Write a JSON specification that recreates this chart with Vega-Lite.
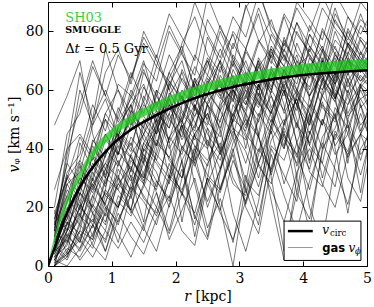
{
"$schema": "https://vega.github.io/schema/vega-lite/v6.json",
"autosize": "none",
"width": 319,
"height": 264,
"padding": {"left": 48, "top": 2, "right": 7, "bottom": 41},
"background": "white",
"config": {
  "font": "DejaVu Serif",
  "view": {"stroke": "#000", "strokeWidth": 1},
  "axis": {"grid": false, "domain": false, "tickColor": "#000", "tickSize": -5, "tickWidth": 1, "labelFont": "DejaVu Serif", "labelFontSize": 14, "labelColor": "#000", "labelPadding": 10, "labelFlush": false, "labelOverlap": false, "titleFont": "DejaVu Serif", "titleFontSize": 14, "titleFontWeight": "normal", "titleColor": "#000"}
},
"datasets": {
"one": [{"k": 1}],
"gas": [
{"s":1,"r":0.1,"v":5},{"s":1,"r":0.3,"v":14},{"s":1,"r":0.5,"v":22},{"s":1,"r":0.7,"v":35},{"s":1,"r":0.9,"v":28},{"s":1,"r":1.1,"v":40},{"s":1,"r":1.3,"v":52},{"s":1,"r":1.5,"v":47},{"s":1,"r":1.7,"v":60},{"s":1,"r":1.9,"v":55},{"s":1,"r":2.1,"v":49},{"s":1,"r":2.3,"v":62},{"s":1,"r":2.5,"v":70},{"s":1,"r":2.7,"v":58},{"s":1,"r":2.9,"v":51},{"s":1,"r":3.1,"v":66},{"s":1,"r":3.3,"v":60},{"s":1,"r":3.5,"v":72},{"s":1,"r":3.7,"v":64},{"s":1,"r":3.9,"v":55},{"s":1,"r":4.1,"v":68},{"s":1,"r":4.3,"v":75},{"s":1,"r":4.5,"v":62},{"s":1,"r":4.7,"v":70},{"s":1,"r":4.9,"v":66},{"s":1,"r":5.1,"v":73},
{"s":2,"r":0.1,"v":12},{"s":2,"r":0.3,"v":8},{"s":2,"r":0.5,"v":20},{"s":2,"r":0.7,"v":15},{"s":2,"r":0.9,"v":30},{"s":2,"r":1.1,"v":26},{"s":2,"r":1.3,"v":38},{"s":2,"r":1.5,"v":45},{"s":2,"r":1.7,"v":36},{"s":2,"r":1.9,"v":50},{"s":2,"r":2.1,"v":58},{"s":2,"r":2.3,"v":44},{"s":2,"r":2.5,"v":40},{"s":2,"r":2.7,"v":53},{"s":2,"r":2.9,"v":61},{"s":2,"r":3.1,"v":48},{"s":2,"r":3.3,"v":57},{"s":2,"r":3.5,"v":66},{"s":2,"r":3.7,"v":52},{"s":2,"r":3.9,"v":60},{"s":2,"r":4.1,"v":49},{"s":2,"r":4.3,"v":63},{"s":2,"r":4.5,"v":71},{"s":2,"r":4.7,"v":58},{"s":2,"r":4.9,"v":65},{"s":2,"r":5.1,"v":60},
{"s":3,"r":0.1,"v":2},{"s":3,"r":0.3,"v":10},{"s":3,"r":0.5,"v":6},{"s":3,"r":0.7,"v":18},{"s":3,"r":0.9,"v":25},{"s":3,"r":1.1,"v":20},{"s":3,"r":1.3,"v":33},{"s":3,"r":1.5,"v":28},{"s":3,"r":1.7,"v":42},{"s":3,"r":1.9,"v":37},{"s":3,"r":2.1,"v":30},{"s":3,"r":2.3,"v":45},{"s":3,"r":2.5,"v":52},{"s":3,"r":2.7,"v":39},{"s":3,"r":2.9,"v":47},{"s":3,"r":3.1,"v":35},{"s":3,"r":3.3,"v":50},{"s":3,"r":3.5,"v":58},{"s":3,"r":3.7,"v":44},{"s":3,"r":3.9,"v":38},{"s":3,"r":4.1,"v":55},{"s":3,"r":4.3,"v":48},{"s":3,"r":4.5,"v":62},{"s":3,"r":4.7,"v":51},{"s":3,"r":4.9,"v":57},{"s":3,"r":5.1,"v":49},
{"s":4,"r":0.1,"v":16},{"s":4,"r":0.3,"v":35},{"s":4,"r":0.5,"v":28},{"s":4,"r":0.7,"v":42},{"s":4,"r":0.9,"v":50},{"s":4,"r":1.1,"v":38},{"s":4,"r":1.3,"v":55},{"s":4,"r":1.5,"v":62},{"s":4,"r":1.7,"v":48},{"s":4,"r":1.9,"v":58},{"s":4,"r":2.1,"v":66},{"s":4,"r":2.3,"v":53},{"s":4,"r":2.5,"v":70},{"s":4,"r":2.7,"v":61},{"s":4,"r":2.9,"v":57},{"s":4,"r":3.1,"v":74},{"s":4,"r":3.3,"v":65},{"s":4,"r":3.5,"v":59},{"s":4,"r":3.7,"v":78},{"s":4,"r":3.9,"v":68},{"s":4,"r":4.1,"v":72},{"s":4,"r":4.3,"v":63},{"s":4,"r":4.5,"v":80},{"s":4,"r":4.7,"v":70},{"s":4,"r":4.9,"v":67},{"s":4,"r":5.1,"v":75},
{"s":5,"r":0.1,"v":0},{"s":5,"r":0.3,"v":5},{"s":5,"r":0.5,"v":12},{"s":5,"r":0.7,"v":9},{"s":5,"r":0.9,"v":22},{"s":5,"r":1.1,"v":30},{"s":5,"r":1.3,"v":18},{"s":5,"r":1.5,"v":27},{"s":5,"r":1.7,"v":38},{"s":5,"r":1.9,"v":33},{"s":5,"r":2.1,"v":25},{"s":5,"r":2.3,"v":41},{"s":5,"r":2.5,"v":36},{"s":5,"r":2.7,"v":46},{"s":5,"r":2.9,"v":30},{"s":5,"r":3.1,"v":22},{"s":5,"r":3.3,"v":38},{"s":5,"r":3.5,"v":50},{"s":5,"r":3.7,"v":43},{"s":5,"r":3.9,"v":35},{"s":5,"r":4.1,"v":52},{"s":5,"r":4.3,"v":40},{"s":5,"r":4.5,"v":47},{"s":5,"r":4.7,"v":58},{"s":5,"r":4.9,"v":45},{"s":5,"r":5.1,"v":53},
{"s":6,"r":0.1,"v":8},{"s":6,"r":0.3,"v":20},{"s":6,"r":0.5,"v":14},{"s":6,"r":0.7,"v":27},{"s":6,"r":0.9,"v":35},{"s":6,"r":1.1,"v":44},{"s":6,"r":1.3,"v":32},{"s":6,"r":1.5,"v":50},{"s":6,"r":1.7,"v":41},{"s":6,"r":1.9,"v":57},{"s":6,"r":2.1,"v":46},{"s":6,"r":2.3,"v":38},{"s":6,"r":2.5,"v":55},{"s":6,"r":2.7,"v":63},{"s":6,"r":2.9,"v":49},{"s":6,"r":3.1,"v":58},{"s":6,"r":3.3,"v":70},{"s":6,"r":3.5,"v":54},{"s":6,"r":3.7,"v":62},{"s":6,"r":3.9,"v":47},{"s":6,"r":4.1,"v":66},{"s":6,"r":4.3,"v":58},{"s":6,"r":4.5,"v":73},{"s":6,"r":4.7,"v":61},{"s":6,"r":4.9,"v":69},{"s":6,"r":5.1,"v":64},
{"s":7,"r":0.1,"v":15},{"s":7,"r":0.3,"v":4},{"s":7,"r":0.5,"v":25},{"s":7,"r":0.7,"v":18},{"s":7,"r":0.9,"v":12},{"s":7,"r":1.1,"v":30},{"s":7,"r":1.3,"v":24},{"s":7,"r":1.5,"v":40},{"s":7,"r":1.7,"v":35},{"s":7,"r":1.9,"v":28},{"s":7,"r":2.1,"v":47},{"s":7,"r":2.3,"v":55},{"s":7,"r":2.5,"v":42},{"s":7,"r":2.7,"v":36},{"s":7,"r":2.9,"v":52},{"s":7,"r":3.1,"v":60},{"s":7,"r":3.3,"v":44},{"s":7,"r":3.5,"v":31},{"s":7,"r":3.7,"v":48},{"s":7,"r":3.9,"v":57},{"s":7,"r":4.1,"v":41},{"s":7,"r":4.3,"v":55},{"s":7,"r":4.5,"v":50},{"s":7,"r":4.7,"v":64},{"s":7,"r":4.9,"v":46},{"s":7,"r":5.1,"v":58},
{"s":8,"r":0.1,"v":14},{"s":8,"r":0.3,"v":32},{"s":8,"r":0.5,"v":38},{"s":8,"r":0.7,"v":55},{"s":8,"r":0.9,"v":46},{"s":8,"r":1.1,"v":62},{"s":8,"r":1.3,"v":58},{"s":8,"r":1.5,"v":70},{"s":8,"r":1.7,"v":54},{"s":8,"r":1.9,"v":66},{"s":8,"r":2.1,"v":75},{"s":8,"r":2.3,"v":60},{"s":8,"r":2.5,"v":68},{"s":8,"r":2.7,"v":82},{"s":8,"r":2.9,"v":71},{"s":8,"r":3.1,"v":64},{"s":8,"r":3.3,"v":77},{"s":8,"r":3.5,"v":69},{"s":8,"r":3.7,"v":85},{"s":8,"r":3.9,"v":73},{"s":8,"r":4.1,"v":66},{"s":8,"r":4.3,"v":80},{"s":8,"r":4.5,"v":74},{"s":8,"r":4.7,"v":68},{"s":8,"r":4.9,"v":82},{"s":8,"r":5.1,"v":76},
{"s":9,"r":0.1,"v":3},{"s":9,"r":0.3,"v":12},{"s":9,"r":0.5,"v":25},{"s":9,"r":0.7,"v":20},{"s":9,"r":0.9,"v":33},{"s":9,"r":1.1,"v":41},{"s":9,"r":1.3,"v":37},{"s":9,"r":1.5,"v":29},{"s":9,"r":1.7,"v":45},{"s":9,"r":1.9,"v":52},{"s":9,"r":2.1,"v":40},{"s":9,"r":2.3,"v":48},{"s":9,"r":2.5,"v":59},{"s":9,"r":2.7,"v":53},{"s":9,"r":2.9,"v":44},{"s":9,"r":3.1,"v":62},{"s":9,"r":3.3,"v":56},{"s":9,"r":3.5,"v":49},{"s":9,"r":3.7,"v":67},{"s":9,"r":3.9,"v":58},{"s":9,"r":4.1,"v":52},{"s":9,"r":4.3,"v":71},{"s":9,"r":4.5,"v":60},{"s":9,"r":4.7,"v":55},{"s":9,"r":4.9,"v":68},{"s":9,"r":5.1,"v":63},
{"s":10,"r":0.1,"v":10},{"s":10,"r":0.3,"v":18},{"s":10,"r":0.5,"v":9},{"s":10,"r":0.7,"v":24},{"s":10,"r":0.9,"v":17},{"s":10,"r":1.1,"v":35},{"s":10,"r":1.3,"v":42},{"s":10,"r":1.5,"v":31},{"s":10,"r":1.7,"v":26},{"s":10,"r":1.9,"v":44},{"s":10,"r":2.1,"v":38},{"s":10,"r":2.3,"v":55},{"s":10,"r":2.5,"v":47},{"s":10,"r":2.7,"v":40},{"s":10,"r":2.9,"v":60},{"s":10,"r":3.1,"v":52},{"s":10,"r":3.3,"v":35},{"s":10,"r":3.5,"v":48},{"s":10,"r":3.7,"v":63},{"s":10,"r":3.9,"v":55},{"s":10,"r":4.1,"v":45},{"s":10,"r":4.3,"v":58},{"s":10,"r":4.5,"v":66},{"s":10,"r":4.7,"v":52},{"s":10,"r":4.9,"v":61},{"s":10,"r":5.1,"v":57},
{"s":11,"r":0.1,"v":6},{"s":11,"r":0.3,"v":22},{"s":11,"r":0.5,"v":30},{"s":11,"r":0.7,"v":26},{"s":11,"r":0.9,"v":40},{"s":11,"r":1.1,"v":34},{"s":11,"r":1.3,"v":48},{"s":11,"r":1.5,"v":56},{"s":11,"r":1.7,"v":45},{"s":11,"r":1.9,"v":62},{"s":11,"r":2.1,"v":53},{"s":11,"r":2.3,"v":47},{"s":11,"r":2.5,"v":64},{"s":11,"r":2.7,"v":58},{"s":11,"r":2.9,"v":70},{"s":11,"r":3.1,"v":61},{"s":11,"r":3.3,"v":55},{"s":11,"r":3.5,"v":73},{"s":11,"r":3.7,"v":66},{"s":11,"r":3.9,"v":59},{"s":11,"r":4.1,"v":75},{"s":11,"r":4.3,"v":68},{"s":11,"r":4.5,"v":62},{"s":11,"r":4.7,"v":76},{"s":11,"r":4.9,"v":70},{"s":11,"r":5.1,"v":65},
{"s":12,"r":0.1,"v":18},{"s":12,"r":0.3,"v":10},{"s":12,"r":0.5,"v":16},{"s":12,"r":0.7,"v":32},{"s":12,"r":0.9,"v":24},{"s":12,"r":1.1,"v":20},{"s":12,"r":1.3,"v":36},{"s":12,"r":1.5,"v":30},{"s":12,"r":1.7,"v":50},{"s":12,"r":1.9,"v":43},{"s":12,"r":2.1,"v":58},{"s":12,"r":2.3,"v":49},{"s":12,"r":2.5,"v":41},{"s":12,"r":2.7,"v":56},{"s":12,"r":2.9,"v":65},{"s":12,"r":3.1,"v":50},{"s":12,"r":3.3,"v":44},{"s":12,"r":3.5,"v":60},{"s":12,"r":3.7,"v":53},{"s":12,"r":3.9,"v":70},{"s":12,"r":4.1,"v":57},{"s":12,"r":4.3,"v":48},{"s":12,"r":4.5,"v":66},{"s":12,"r":4.7,"v":59},{"s":12,"r":4.9,"v":73},{"s":12,"r":5.1,"v":62},
{"s":13,"r":0.1,"v":0},{"s":13,"r":0.3,"v":8},{"s":13,"r":0.5,"v":18},{"s":13,"r":0.7,"v":28},{"s":13,"r":0.9,"v":21},{"s":13,"r":1.1,"v":14},{"s":13,"r":1.3,"v":28},{"s":13,"r":1.5,"v":38},{"s":13,"r":1.7,"v":32},{"s":13,"r":1.9,"v":20},{"s":13,"r":2.1,"v":36},{"s":13,"r":2.3,"v":45},{"s":13,"r":2.5,"v":28},{"s":13,"r":2.7,"v":39},{"s":13,"r":2.9,"v":52},{"s":13,"r":3.1,"v":44},{"s":13,"r":3.3,"v":30},{"s":13,"r":3.5,"v":47},{"s":13,"r":3.7,"v":40},{"s":13,"r":3.9,"v":55},{"s":13,"r":4.1,"v":36},{"s":13,"r":4.3,"v":50},{"s":13,"r":4.5,"v":43},{"s":13,"r":4.7,"v":60},{"s":13,"r":4.9,"v":48},{"s":13,"r":5.1,"v":54},
{"s":14,"r":0.1,"v":9},{"s":14,"r":0.3,"v":28},{"s":14,"r":0.5,"v":32},{"s":14,"r":0.7,"v":48},{"s":14,"r":0.9,"v":57},{"s":14,"r":1.1,"v":44},{"s":14,"r":1.3,"v":60},{"s":14,"r":1.5,"v":52},{"s":14,"r":1.7,"v":68},{"s":14,"r":1.9,"v":63},{"s":14,"r":2.1,"v":57},{"s":14,"r":2.3,"v":72},{"s":14,"r":2.5,"v":65},{"s":14,"r":2.7,"v":80},{"s":14,"r":2.9,"v":70},{"s":14,"r":3.1,"v":62},{"s":14,"r":3.3,"v":76},{"s":14,"r":3.5,"v":84},{"s":14,"r":3.7,"v":71},{"s":14,"r":3.9,"v":66},{"s":14,"r":4.1,"v":79},{"s":14,"r":4.3,"v":73},{"s":14,"r":4.5,"v":88},{"s":14,"r":4.7,"v":75},{"s":14,"r":4.9,"v":69},{"s":14,"r":5.1,"v":78},
{"s":15,"r":0.1,"v":4},{"s":15,"r":0.3,"v":15},{"s":15,"r":0.5,"v":11},{"s":15,"r":0.7,"v":6},{"s":15,"r":0.9,"v":19},{"s":15,"r":1.1,"v":28},{"s":15,"r":1.3,"v":23},{"s":15,"r":1.5,"v":35},{"s":15,"r":1.7,"v":27},{"s":15,"r":1.9,"v":44},{"s":15,"r":2.1,"v":50},{"s":15,"r":2.3,"v":36},{"s":15,"r":2.5,"v":43},{"s":15,"r":2.7,"v":33},{"s":15,"r":2.9,"v":55},{"s":15,"r":3.1,"v":47},{"s":15,"r":3.3,"v":62},{"s":15,"r":3.5,"v":51},{"s":15,"r":3.7,"v":40},{"s":15,"r":3.9,"v":58},{"s":15,"r":4.1,"v":66},{"s":15,"r":4.3,"v":54},{"s":15,"r":4.5,"v":49},{"s":15,"r":4.7,"v":63},{"s":15,"r":4.9,"v":57},{"s":15,"r":5.1,"v":60},
{"s":16,"r":0.1,"v":12},{"s":16,"r":0.3,"v":28},{"s":16,"r":0.5,"v":20},{"s":16,"r":0.7,"v":38},{"s":16,"r":0.9,"v":31},{"s":16,"r":1.1,"v":46},{"s":16,"r":1.3,"v":40},{"s":16,"r":1.5,"v":35},{"s":16,"r":1.7,"v":52},{"s":16,"r":1.9,"v":47},{"s":16,"r":2.1,"v":60},{"s":16,"r":2.3,"v":54},{"s":16,"r":2.5,"v":48},{"s":16,"r":2.7,"v":65},{"s":16,"r":2.9,"v":58},{"s":16,"r":3.1,"v":52},{"s":16,"r":3.3,"v":68},{"s":16,"r":3.5,"v":74},{"s":16,"r":3.7,"v":60},{"s":16,"r":3.9,"v":55},{"s":16,"r":4.1,"v":71},{"s":16,"r":4.3,"v":64},{"s":16,"r":4.5,"v":58},{"s":16,"r":4.7,"v":73},{"s":16,"r":4.9,"v":67},{"s":16,"r":5.1,"v":61},
{"s":17,"r":0.1,"v":7},{"s":17,"r":0.3,"v":3},{"s":17,"r":0.5,"v":15},{"s":17,"r":0.7,"v":24},{"s":17,"r":0.9,"v":33},{"s":17,"r":1.1,"v":26},{"s":17,"r":1.3,"v":19},{"s":17,"r":1.5,"v":40},{"s":17,"r":1.7,"v":48},{"s":17,"r":1.9,"v":36},{"s":17,"r":2.1,"v":30},{"s":17,"r":2.3,"v":54},{"s":17,"r":2.5,"v":45},{"s":17,"r":2.7,"v":38},{"s":17,"r":2.9,"v":50},{"s":17,"r":3.1,"v":64},{"s":17,"r":3.3,"v":56},{"s":17,"r":3.5,"v":47},{"s":17,"r":3.7,"v":60},{"s":17,"r":3.9,"v":42},{"s":17,"r":4.1,"v":54},{"s":17,"r":4.3,"v":67},{"s":17,"r":4.5,"v":59},{"s":17,"r":4.7,"v":50},{"s":17,"r":4.9,"v":62},{"s":17,"r":5.1,"v":58},
{"s":18,"r":0.1,"v":12},{"s":18,"r":0.3,"v":40},{"s":18,"r":0.5,"v":45},{"s":18,"r":0.7,"v":38},{"s":18,"r":0.9,"v":52},{"s":18,"r":1.1,"v":60},{"s":18,"r":1.3,"v":48},{"s":18,"r":1.5,"v":66},{"s":18,"r":1.7,"v":58},{"s":18,"r":1.9,"v":72},{"s":18,"r":2.1,"v":63},{"s":18,"r":2.3,"v":56},{"s":18,"r":2.5,"v":78},{"s":18,"r":2.7,"v":69},{"s":18,"r":2.9,"v":61},{"s":18,"r":3.1,"v":74},{"s":18,"r":3.3,"v":86},{"s":18,"r":3.5,"v":70},{"s":18,"r":3.7,"v":64},{"s":18,"r":3.9,"v":80},{"s":18,"r":4.1,"v":72},{"s":18,"r":4.3,"v":66},{"s":18,"r":4.5,"v":84},{"s":18,"r":4.7,"v":76},{"s":18,"r":4.9,"v":70},{"s":18,"r":5.1,"v":79},
{"s":19,"r":0.1,"v":2},{"s":19,"r":0.3,"v":9},{"s":19,"r":0.5,"v":17},{"s":19,"r":0.7,"v":13},{"s":19,"r":0.9,"v":26},{"s":19,"r":1.1,"v":20},{"s":19,"r":1.3,"v":31},{"s":19,"r":1.5,"v":24},{"s":19,"r":1.7,"v":17},{"s":19,"r":1.9,"v":29},{"s":19,"r":2.1,"v":40},{"s":19,"r":2.3,"v":35},{"s":19,"r":2.5,"v":22},{"s":19,"r":2.7,"v":33},{"s":19,"r":2.9,"v":46},{"s":19,"r":3.1,"v":39},{"s":19,"r":3.3,"v":27},{"s":19,"r":3.5,"v":43},{"s":19,"r":3.7,"v":50},{"s":19,"r":3.9,"v":34},{"s":19,"r":4.1,"v":45},{"s":19,"r":4.3,"v":56},{"s":19,"r":4.5,"v":41},{"s":19,"r":4.7,"v":48},{"s":19,"r":4.9,"v":36},{"s":19,"r":5.1,"v":52},
{"s":20,"r":0.1,"v":14},{"s":20,"r":0.3,"v":24},{"s":20,"r":0.5,"v":36},{"s":20,"r":0.7,"v":29},{"s":20,"r":0.9,"v":43},{"s":20,"r":1.1,"v":38},{"s":20,"r":1.3,"v":51},{"s":20,"r":1.5,"v":45},{"s":20,"r":1.7,"v":58},{"s":20,"r":1.9,"v":50},{"s":20,"r":2.1,"v":44},{"s":20,"r":2.3,"v":61},{"s":20,"r":2.5,"v":55},{"s":20,"r":2.7,"v":49},{"s":20,"r":2.9,"v":67},{"s":20,"r":3.1,"v":58},{"s":20,"r":3.3,"v":51},{"s":20,"r":3.5,"v":64},{"s":20,"r":3.7,"v":72},{"s":20,"r":3.9,"v":60},{"s":20,"r":4.1,"v":54},{"s":20,"r":4.3,"v":69},{"s":20,"r":4.5,"v":62},{"s":20,"r":4.7,"v":75},{"s":20,"r":4.9,"v":66},{"s":20,"r":5.1,"v":71},
{"s":21,"r":0.1,"v":9},{"s":21,"r":0.3,"v":16},{"s":21,"r":0.5,"v":28},{"s":21,"r":0.7,"v":41},{"s":21,"r":0.9,"v":33},{"s":21,"r":1.1,"v":47},{"s":21,"r":1.3,"v":55},{"s":21,"r":1.5,"v":43},{"s":21,"r":1.7,"v":38},{"s":21,"r":1.9,"v":52},{"s":21,"r":2.1,"v":64},{"s":21,"r":2.3,"v":57},{"s":21,"r":2.5,"v":50},{"s":21,"r":2.7,"v":68},{"s":21,"r":2.9,"v":60},{"s":21,"r":3.1,"v":53},{"s":21,"r":3.3,"v":71},{"s":21,"r":3.5,"v":63},{"s":21,"r":3.7,"v":58},{"s":21,"r":3.9,"v":76},{"s":21,"r":4.1,"v":66},{"s":21,"r":4.3,"v":60},{"s":21,"r":4.5,"v":72},{"s":21,"r":4.7,"v":65},{"s":21,"r":4.9,"v":77},{"s":21,"r":5.1,"v":69},
{"s":22,"r":0.1,"v":0},{"s":22,"r":0.3,"v":6},{"s":22,"r":0.5,"v":3},{"s":22,"r":0.7,"v":11},{"s":22,"r":0.9,"v":20},{"s":22,"r":1.1,"v":15},{"s":22,"r":1.3,"v":27},{"s":22,"r":1.5,"v":22},{"s":22,"r":1.7,"v":14},{"s":22,"r":1.9,"v":30},{"s":22,"r":2.1,"v":25},{"s":22,"r":2.3,"v":18},{"s":22,"r":2.5,"v":35},{"s":22,"r":2.7,"v":42},{"s":22,"r":2.9,"v":28},{"s":22,"r":3.1,"v":24},{"s":22,"r":3.3,"v":40},{"s":22,"r":3.5,"v":33},{"s":22,"r":3.7,"v":47},{"s":22,"r":3.9,"v":38},{"s":22,"r":4.1,"v":26},{"s":22,"r":4.3,"v":44},{"s":22,"r":4.5,"v":51},{"s":22,"r":4.7,"v":37},{"s":22,"r":4.9,"v":45},{"s":22,"r":5.1,"v":41},
{"s":23,"r":0.1,"v":12},{"s":23,"r":0.3,"v":14},{"s":23,"r":0.5,"v":30},{"s":23,"r":0.7,"v":25},{"s":23,"r":0.9,"v":38},{"s":23,"r":1.1,"v":47},{"s":23,"r":1.3,"v":41},{"s":23,"r":1.5,"v":55},{"s":23,"r":1.7,"v":49},{"s":23,"r":1.9,"v":63},{"s":23,"r":2.1,"v":56},{"s":23,"r":2.3,"v":68},{"s":23,"r":2.5,"v":60},{"s":23,"r":2.7,"v":53},{"s":23,"r":2.9,"v":72},{"s":23,"r":3.1,"v":65},{"s":23,"r":3.3,"v":58},{"s":23,"r":3.5,"v":74},{"s":23,"r":3.7,"v":68},{"s":23,"r":3.9,"v":62},{"s":23,"r":4.1,"v":79},{"s":23,"r":4.3,"v":70},{"s":23,"r":4.5,"v":64},{"s":23,"r":4.7,"v":81},{"s":23,"r":4.9,"v":73},{"s":23,"r":5.1,"v":67},
{"s":24,"r":0.1,"v":5},{"s":24,"r":0.3,"v":18},{"s":24,"r":0.5,"v":26},{"s":24,"r":0.7,"v":34},{"s":24,"r":0.9,"v":27},{"s":24,"r":1.1,"v":44},{"s":24,"r":1.3,"v":37},{"s":24,"r":1.5,"v":30},{"s":24,"r":1.7,"v":47},{"s":24,"r":1.9,"v":55},{"s":24,"r":2.1,"v":43},{"s":24,"r":2.3,"v":51},{"s":24,"r":2.5,"v":58},{"s":24,"r":2.7,"v":46},{"s":24,"r":2.9,"v":63},{"s":24,"r":3.1,"v":56},{"s":24,"r":3.3,"v":49},{"s":24,"r":3.5,"v":66},{"s":24,"r":3.7,"v":59},{"s":24,"r":3.9,"v":53},{"s":24,"r":4.1,"v":69},{"s":24,"r":4.3,"v":62},{"s":24,"r":4.5,"v":56},{"s":24,"r":4.7,"v":71},{"s":24,"r":4.9,"v":64},{"s":24,"r":5.1,"v":60},
{"s":25,"r":0.1,"v":16},{"s":25,"r":0.3,"v":30},{"s":25,"r":0.5,"v":44},{"s":25,"r":0.7,"v":36},{"s":25,"r":0.9,"v":52},{"s":25,"r":1.1,"v":45},{"s":25,"r":1.3,"v":39},{"s":25,"r":1.5,"v":58},{"s":25,"r":1.7,"v":50},{"s":25,"r":1.9,"v":66},{"s":25,"r":2.1,"v":57},{"s":25,"r":2.3,"v":51},{"s":25,"r":2.5,"v":62},{"s":25,"r":2.7,"v":74},{"s":25,"r":2.9,"v":64},{"s":25,"r":3.1,"v":57},{"s":25,"r":3.3,"v":70},{"s":25,"r":3.5,"v":61},{"s":25,"r":3.7,"v":77},{"s":25,"r":3.9,"v":68},{"s":25,"r":4.1,"v":60},{"s":25,"r":4.3,"v":73},{"s":25,"r":4.5,"v":65},{"s":25,"r":4.7,"v":80},{"s":25,"r":4.9,"v":71},{"s":25,"r":5.1,"v":66},
{"s":26,"r":0.1,"v":1},{"s":26,"r":0.3,"v":4},{"s":26,"r":0.5,"v":10},{"s":26,"r":0.7,"v":16},{"s":26,"r":0.9,"v":8},{"s":26,"r":1.1,"v":22},{"s":26,"r":1.3,"v":17},{"s":26,"r":1.5,"v":28},{"s":26,"r":1.7,"v":20},{"s":26,"r":1.9,"v":35},{"s":26,"r":2.1,"v":24},{"s":26,"r":2.3,"v":40},{"s":26,"r":2.5,"v":31},{"s":26,"r":2.7,"v":26},{"s":26,"r":2.9,"v":42},{"s":26,"r":3.1,"v":50},{"s":26,"r":3.3,"v":34},{"s":26,"r":3.5,"v":28},{"s":26,"r":3.7,"v":45},{"s":26,"r":3.9,"v":37},{"s":26,"r":4.1,"v":52},{"s":26,"r":4.3,"v":30},{"s":26,"r":4.5,"v":46},{"s":26,"r":4.7,"v":39},{"s":26,"r":4.9,"v":55},{"s":26,"r":5.1,"v":43},
{"s":27,"r":0.1,"v":11},{"s":27,"r":0.3,"v":26},{"s":27,"r":0.5,"v":19},{"s":27,"r":0.7,"v":33},{"s":27,"r":0.9,"v":45},{"s":27,"r":1.1,"v":38},{"s":27,"r":1.3,"v":53},{"s":27,"r":1.5,"v":47},{"s":27,"r":1.7,"v":41},{"s":27,"r":1.9,"v":59},{"s":27,"r":2.1,"v":52},{"s":27,"r":2.3,"v":46},{"s":27,"r":2.5,"v":63},{"s":27,"r":2.7,"v":57},{"s":27,"r":2.9,"v":69},{"s":27,"r":3.1,"v":60},{"s":27,"r":3.3,"v":54},{"s":27,"r":3.5,"v":67},{"s":27,"r":3.7,"v":61},{"s":27,"r":3.9,"v":72},{"s":27,"r":4.1,"v":58},{"s":27,"r":4.3,"v":65},{"s":27,"r":4.5,"v":75},{"s":27,"r":4.7,"v":63},{"s":27,"r":4.9,"v":70},{"s":27,"r":5.1,"v":68},
{"s":28,"r":0.1,"v":20},{"s":28,"r":0.3,"v":45},{"s":28,"r":0.5,"v":52},{"s":28,"r":0.7,"v":68},{"s":28,"r":0.9,"v":58},{"s":28,"r":1.1,"v":72},{"s":28,"r":1.3,"v":64},{"s":28,"r":1.5,"v":78},{"s":28,"r":1.7,"v":70},{"s":28,"r":1.9,"v":60},{"s":28,"r":2.1,"v":76},{"s":28,"r":2.3,"v":85},{"s":28,"r":2.5,"v":72},{"s":28,"r":2.7,"v":66},{"s":28,"r":2.9,"v":80},{"s":28,"r":3.1,"v":74},{"s":28,"r":3.3,"v":88},{"s":28,"r":3.5,"v":77},{"s":28,"r":3.7,"v":70},{"s":28,"r":3.9,"v":83},{"s":28,"r":4.1,"v":75},{"s":28,"r":4.3,"v":69},{"s":28,"r":4.5,"v":86},{"s":28,"r":4.7,"v":78},{"s":28,"r":4.9,"v":72},{"s":28,"r":5.1,"v":81},
{"s":29,"r":0.1,"v":3},{"s":29,"r":0.3,"v":7},{"s":29,"r":0.5,"v":21},{"s":29,"r":0.7,"v":14},{"s":29,"r":0.9,"v":29},{"s":29,"r":1.1,"v":36},{"s":29,"r":1.3,"v":25},{"s":29,"r":1.5,"v":32},{"s":29,"r":1.7,"v":43},{"s":29,"r":1.9,"v":37},{"s":29,"r":2.1,"v":48},{"s":29,"r":2.3,"v":41},{"s":29,"r":2.5,"v":34},{"s":29,"r":2.7,"v":50},{"s":29,"r":2.9,"v":57},{"s":29,"r":3.1,"v":45},{"s":29,"r":3.3,"v":39},{"s":29,"r":3.5,"v":53},{"s":29,"r":3.7,"v":61},{"s":29,"r":3.9,"v":48},{"s":29,"r":4.1,"v":42},{"s":29,"r":4.3,"v":58},{"s":29,"r":4.5,"v":51},{"s":29,"r":4.7,"v":66},{"s":29,"r":4.9,"v":54},{"s":29,"r":5.1,"v":59},
{"s":30,"r":0.1,"v":19},{"s":30,"r":0.3,"v":12},{"s":30,"r":0.5,"v":27},{"s":30,"r":0.7,"v":37},{"s":30,"r":0.9,"v":30},{"s":30,"r":1.1,"v":42},{"s":30,"r":1.3,"v":50},{"s":30,"r":1.5,"v":39},{"s":30,"r":1.7,"v":46},{"s":30,"r":1.9,"v":57},{"s":30,"r":2.1,"v":49},{"s":30,"r":2.3,"v":63},{"s":30,"r":2.5,"v":55},{"s":30,"r":2.7,"v":47},{"s":30,"r":2.9,"v":61},{"s":30,"r":3.1,"v":70},{"s":30,"r":3.3,"v":58},{"s":30,"r":3.5,"v":52},{"s":30,"r":3.7,"v":67},{"s":30,"r":3.9,"v":60},{"s":30,"r":4.1,"v":74},{"s":30,"r":4.3,"v":65},{"s":30,"r":4.5,"v":57},{"s":30,"r":4.7,"v":70},{"s":30,"r":4.9,"v":63},{"s":30,"r":5.1,"v":68},
{"s":31,"r":0.1,"v":6},{"s":31,"r":0.3,"v":13},{"s":31,"r":0.5,"v":8},{"s":31,"r":0.7,"v":21},{"s":31,"r":0.9,"v":15},{"s":31,"r":1.1,"v":28},{"s":31,"r":1.3,"v":34},{"s":31,"r":1.5,"v":23},{"s":31,"r":1.7,"v":18},{"s":31,"r":1.9,"v":31},{"s":31,"r":2.1,"v":26},{"s":31,"r":2.3,"v":38},{"s":31,"r":2.5,"v":20},{"s":31,"r":2.7,"v":33},{"s":31,"r":2.9,"v":44},{"s":31,"r":3.1,"v":29},{"s":31,"r":3.3,"v":24},{"s":31,"r":3.5,"v":41},{"s":31,"r":3.7,"v":36},{"s":31,"r":3.9,"v":49},{"s":31,"r":4.1,"v":32},{"s":31,"r":4.3,"v":27},{"s":31,"r":4.5,"v":45},{"s":31,"r":4.7,"v":38},{"s":31,"r":4.9,"v":52},{"s":31,"r":5.1,"v":40},
{"s":32,"r":0.1,"v":10},{"s":32,"r":0.3,"v":30},{"s":32,"r":0.5,"v":36},{"s":32,"r":0.7,"v":50},{"s":32,"r":0.9,"v":60},{"s":32,"r":1.1,"v":49},{"s":32,"r":1.3,"v":57},{"s":32,"r":1.5,"v":67},{"s":32,"r":1.7,"v":55},{"s":32,"r":1.9,"v":64},{"s":32,"r":2.1,"v":73},{"s":32,"r":2.3,"v":61},{"s":32,"r":2.5,"v":58},{"s":32,"r":2.7,"v":70},{"s":32,"r":2.9,"v":79},{"s":32,"r":3.1,"v":66},{"s":32,"r":3.3,"v":60},{"s":32,"r":3.5,"v":75},{"s":32,"r":3.7,"v":68},{"s":32,"r":3.9,"v":83},{"s":32,"r":4.1,"v":71},{"s":32,"r":4.3,"v":65},{"s":32,"r":4.5,"v":77},{"s":32,"r":4.7,"v":72},{"s":32,"r":4.9,"v":86},{"s":32,"r":5.1,"v":74},
{"s":33,"r":0.1,"v":8},{"s":33,"r":0.3,"v":19},{"s":33,"r":0.5,"v":34},{"s":33,"r":0.7,"v":27},{"s":33,"r":0.9,"v":21},{"s":33,"r":1.1,"v":39},{"s":33,"r":1.3,"v":33},{"s":33,"r":1.5,"v":45},{"s":33,"r":1.7,"v":53},{"s":33,"r":1.9,"v":40},{"s":33,"r":2.1,"v":48},{"s":33,"r":2.3,"v":35},{"s":33,"r":2.5,"v":56},{"s":33,"r":2.7,"v":62},{"s":33,"r":2.9,"v":47},{"s":33,"r":3.1,"v":43},{"s":33,"r":3.3,"v":59},{"s":33,"r":3.5,"v":52},{"s":33,"r":3.7,"v":67},{"s":33,"r":3.9,"v":55},{"s":33,"r":4.1,"v":48},{"s":33,"r":4.3,"v":64},{"s":33,"r":4.5,"v":57},{"s":33,"r":4.7,"v":70},{"s":33,"r":4.9,"v":61},{"s":33,"r":5.1,"v":66},
{"s":34,"r":0.1,"v":2},{"s":34,"r":0.3,"v":11},{"s":34,"r":0.5,"v":5},{"s":34,"r":0.7,"v":14},{"s":34,"r":0.9,"v":9},{"s":34,"r":1.1,"v":24},{"s":34,"r":1.3,"v":19},{"s":34,"r":1.5,"v":12},{"s":34,"r":1.7,"v":29},{"s":34,"r":1.9,"v":22},{"s":34,"r":2.1,"v":36},{"s":34,"r":2.3,"v":16},{"s":34,"r":2.5,"v":30},{"s":34,"r":2.7,"v":25},{"s":34,"r":2.9,"v":40},{"s":34,"r":3.1,"v":21},{"s":34,"r":3.3,"v":35},{"s":34,"r":3.5,"v":46},{"s":34,"r":3.7,"v":28},{"s":34,"r":3.9,"v":42},{"s":34,"r":4.1,"v":33},{"s":34,"r":4.3,"v":50},{"s":34,"r":4.5,"v":38},{"s":34,"r":4.7,"v":45},{"s":34,"r":4.9,"v":31},{"s":34,"r":5.1,"v":47},
{"s":35,"r":0.1,"v":13},{"s":35,"r":0.3,"v":31},{"s":35,"r":0.5,"v":24},{"s":35,"r":0.7,"v":43},{"s":35,"r":0.9,"v":37},{"s":35,"r":1.1,"v":54},{"s":35,"r":1.3,"v":46},{"s":35,"r":1.5,"v":61},{"s":35,"r":1.7,"v":53},{"s":35,"r":1.9,"v":47},{"s":35,"r":2.1,"v":67},{"s":35,"r":2.3,"v":58},{"s":35,"r":2.5,"v":71},{"s":35,"r":2.7,"v":63},{"s":35,"r":2.9,"v":56},{"s":35,"r":3.1,"v":73},{"s":35,"r":3.3,"v":66},{"s":35,"r":3.5,"v":60},{"s":35,"r":3.7,"v":76},{"s":35,"r":3.9,"v":70},{"s":35,"r":4.1,"v":64},{"s":35,"r":4.3,"v":81},{"s":35,"r":4.5,"v":72},{"s":35,"r":4.7,"v":67},{"s":35,"r":4.9,"v":78},{"s":35,"r":5.1,"v":73},
{"s":36,"r":0.1,"v":0},{"s":36,"r":0.3,"v":3},{"s":36,"r":0.5,"v":14},{"s":36,"r":0.7,"v":9},{"s":36,"r":0.9,"v":24},{"s":36,"r":1.1,"v":31},{"s":36,"r":1.3,"v":19},{"s":36,"r":1.5,"v":37},{"s":36,"r":1.7,"v":29},{"s":36,"r":1.9,"v":23},{"s":36,"r":2.1,"v":41},{"s":36,"r":2.3,"v":34},{"s":36,"r":2.5,"v":47},{"s":36,"r":2.7,"v":26},{"s":36,"r":2.9,"v":39},{"s":36,"r":3.1,"v":52},{"s":36,"r":3.3,"v":44},{"s":36,"r":3.5,"v":32},{"s":36,"r":3.7,"v":49},{"s":36,"r":3.9,"v":57},{"s":36,"r":4.1,"v":41},{"s":36,"r":4.3,"v":35},{"s":36,"r":4.5,"v":54},{"s":36,"r":4.7,"v":47},{"s":36,"r":4.9,"v":60},{"s":36,"r":5.1,"v":50},
{"s":37,"r":0.1,"v":7},{"s":37,"r":0.3,"v":16},{"s":37,"r":0.5,"v":42},{"s":37,"r":0.7,"v":33},{"s":37,"r":0.9,"v":50},{"s":37,"r":1.1,"v":44},{"s":37,"r":1.3,"v":58},{"s":37,"r":1.5,"v":51},{"s":37,"r":1.7,"v":45},{"s":37,"r":1.9,"v":62},{"s":37,"r":2.1,"v":70},{"s":37,"r":2.3,"v":54},{"s":37,"r":2.5,"v":65},{"s":37,"r":2.7,"v":59},{"s":37,"r":2.9,"v":76},{"s":37,"r":3.1,"v":68},{"s":37,"r":3.3,"v":61},{"s":37,"r":3.5,"v":79},{"s":37,"r":3.7,"v":72},{"s":37,"r":3.9,"v":64},{"s":37,"r":4.1,"v":82},{"s":37,"r":4.3,"v":74},{"s":37,"r":4.5,"v":68},{"s":37,"r":4.7,"v":85},{"s":37,"r":4.9,"v":77},{"s":37,"r":5.1,"v":71},
{"s":38,"r":0.1,"v":10},{"s":38,"r":0.3,"v":24},{"s":38,"r":0.5,"v":17},{"s":38,"r":0.7,"v":30},{"s":38,"r":0.9,"v":45},{"s":38,"r":1.1,"v":35},{"s":38,"r":1.3,"v":29},{"s":38,"r":1.5,"v":48},{"s":38,"r":1.7,"v":56},{"s":38,"r":1.9,"v":42},{"s":38,"r":2.1,"v":51},{"s":38,"r":2.3,"v":64},{"s":38,"r":2.5,"v":49},{"s":38,"r":2.7,"v":44},{"s":38,"r":2.9,"v":60},{"s":38,"r":3.1,"v":55},{"s":38,"r":3.3,"v":69},{"s":38,"r":3.5,"v":58},{"s":38,"r":3.7,"v":48},{"s":38,"r":3.9,"v":66},{"s":38,"r":4.1,"v":61},{"s":38,"r":4.3,"v":74},{"s":38,"r":4.5,"v":57},{"s":38,"r":4.7,"v":68},{"s":38,"r":4.9,"v":63},{"s":38,"r":5.1,"v":70},
{"s":39,"r":0.1,"v":4},{"s":39,"r":0.3,"v":12},{"s":39,"r":0.5,"v":27},{"s":39,"r":0.7,"v":20},{"s":39,"r":0.9,"v":14},{"s":39,"r":1.1,"v":33},{"s":39,"r":1.3,"v":26},{"s":39,"r":1.5,"v":42},{"s":39,"r":1.7,"v":36},{"s":39,"r":1.9,"v":30},{"s":39,"r":2.1,"v":49},{"s":39,"r":2.3,"v":43},{"s":39,"r":2.5,"v":55},{"s":39,"r":2.7,"v":38},{"s":39,"r":2.9,"v":50},{"s":39,"r":3.1,"v":46},{"s":39,"r":3.3,"v":62},{"s":39,"r":3.5,"v":53},{"s":39,"r":3.7,"v":41},{"s":39,"r":3.9,"v":59},{"s":39,"r":4.1,"v":48},{"s":39,"r":4.3,"v":63},{"s":39,"r":4.5,"v":56},{"s":39,"r":4.7,"v":45},{"s":39,"r":4.9,"v":61},{"s":39,"r":5.1,"v":55},
{"s":40,"r":0.1,"v":26},{"s":40,"r":0.3,"v":40},{"s":40,"r":0.5,"v":66},{"s":40,"r":0.7,"v":50},{"s":40,"r":0.9,"v":74},{"s":40,"r":1.1,"v":60},{"s":40,"r":1.3,"v":52},{"s":40,"r":1.5,"v":69},{"s":40,"r":1.7,"v":63},{"s":40,"r":1.9,"v":80},{"s":40,"r":2.1,"v":72},{"s":40,"r":2.3,"v":65},{"s":40,"r":2.5,"v":84},{"s":40,"r":2.7,"v":76},{"s":40,"r":2.9,"v":68},{"s":40,"r":3.1,"v":89},{"s":40,"r":3.3,"v":77},{"s":40,"r":3.5,"v":71},{"s":40,"r":3.7,"v":86},{"s":40,"r":3.9,"v":79},{"s":40,"r":4.1,"v":73},{"s":40,"r":4.3,"v":88},{"s":40,"r":4.5,"v":81},{"s":40,"r":4.7,"v":75},{"s":40,"r":4.9,"v":84},{"s":40,"r":5.1,"v":80},
{"s":41,"r":0.1,"v":3},{"s":41,"r":0.3,"v":10},{"s":41,"r":0.5,"v":20},{"s":41,"r":0.7,"v":28},{"s":41,"r":0.9,"v":35},{"s":41,"r":1.1,"v":30},{"s":41,"r":1.3,"v":44},{"s":41,"r":1.5,"v":38},{"s":41,"r":1.7,"v":25},{"s":41,"r":1.9,"v":12},{"s":41,"r":2.1,"v":30},{"s":41,"r":2.3,"v":45},{"s":41,"r":2.5,"v":52},{"s":41,"r":2.7,"v":40},{"s":41,"r":2.9,"v":18},{"s":41,"r":3.1,"v":5},{"s":41,"r":3.3,"v":22},{"s":41,"r":3.5,"v":48},{"s":41,"r":3.7,"v":60},{"s":41,"r":3.9,"v":42},{"s":41,"r":4.1,"v":20},{"s":41,"r":4.3,"v":8},{"s":41,"r":4.5,"v":35},{"s":41,"r":4.7,"v":55},{"s":41,"r":4.9,"v":62},{"s":41,"r":5.1,"v":50},
{"s":42,"r":0.1,"v":0},{"s":42,"r":0.3,"v":15},{"s":42,"r":0.5,"v":8},{"s":42,"r":0.7,"v":22},{"s":42,"r":0.9,"v":38},{"s":42,"r":1.1,"v":45},{"s":42,"r":1.3,"v":30},{"s":42,"r":1.5,"v":15},{"s":42,"r":1.7,"v":40},{"s":42,"r":1.9,"v":55},{"s":42,"r":2.1,"v":48},{"s":42,"r":2.3,"v":28},{"s":42,"r":2.5,"v":10},{"s":42,"r":2.7,"v":32},{"s":42,"r":2.9,"v":50},{"s":42,"r":3.1,"v":63},{"s":42,"r":3.3,"v":45},{"s":42,"r":3.5,"v":22},{"s":42,"r":3.7,"v":2},{"s":42,"r":3.9,"v":30},{"s":42,"r":4.1,"v":58},{"s":42,"r":4.3,"v":66},{"s":42,"r":4.5,"v":40},{"s":42,"r":4.7,"v":18},{"s":42,"r":4.9,"v":45},{"s":42,"r":5.1,"v":60},
{"s":43,"r":0.1,"v":18},{"s":43,"r":0.3,"v":30},{"s":43,"r":0.5,"v":22},{"s":43,"r":0.7,"v":10},{"s":43,"r":0.9,"v":26},{"s":43,"r":1.1,"v":48},{"s":43,"r":1.3,"v":55},{"s":43,"r":1.5,"v":35},{"s":43,"r":1.7,"v":60},{"s":43,"r":1.9,"v":42},{"s":43,"r":2.1,"v":15},{"s":43,"r":2.3,"v":38},{"s":43,"r":2.5,"v":62},{"s":43,"r":2.7,"v":70},{"s":43,"r":2.9,"v":48},{"s":43,"r":3.1,"v":25},{"s":43,"r":3.3,"v":45},{"s":43,"r":3.5,"v":68},{"s":43,"r":3.7,"v":55},{"s":43,"r":3.9,"v":30},{"s":43,"r":4.1,"v":12},{"s":43,"r":4.3,"v":40},{"s":43,"r":4.5,"v":65},{"s":43,"r":4.7,"v":72},{"s":43,"r":4.9,"v":55},{"s":43,"r":5.1,"v":38},
{"s":44,"r":0.1,"v":6},{"s":44,"r":0.3,"v":2},{"s":44,"r":0.5,"v":12},{"s":44,"r":0.7,"v":30},{"s":44,"r":0.9,"v":20},{"s":44,"r":1.1,"v":8},{"s":44,"r":1.3,"v":25},{"s":44,"r":1.5,"v":42},{"s":44,"r":1.7,"v":50},{"s":44,"r":1.9,"v":30},{"s":44,"r":2.1,"v":55},{"s":44,"r":2.3,"v":62},{"s":44,"r":2.5,"v":40},{"s":44,"r":2.7,"v":20},{"s":44,"r":2.9,"v":0},{"s":44,"r":3.1,"v":28},{"s":44,"r":3.3,"v":52},{"s":44,"r":3.5,"v":45},{"s":44,"r":3.7,"v":65},{"s":44,"r":3.9,"v":50},{"s":44,"r":4.1,"v":35},{"s":44,"r":4.3,"v":60},{"s":44,"r":4.5,"v":70},{"s":44,"r":4.7,"v":48},{"s":44,"r":4.9,"v":25},{"s":44,"r":5.1,"v":52},
{"s":45,"r":0.1,"v":10},{"s":45,"r":0.3,"v":22},{"s":45,"r":0.5,"v":35},{"s":45,"r":0.7,"v":18},{"s":45,"r":0.9,"v":5},{"s":45,"r":1.1,"v":20},{"s":45,"r":1.3,"v":38},{"s":45,"r":1.5,"v":28},{"s":45,"r":1.7,"v":48},{"s":45,"r":1.9,"v":58},{"s":45,"r":2.1,"v":35},{"s":45,"r":2.3,"v":10},{"s":45,"r":2.5,"v":30},{"s":45,"r":2.7,"v":55},{"s":45,"r":2.9,"v":60},{"s":45,"r":3.1,"v":40},{"s":45,"r":3.3,"v":62},{"s":45,"r":3.5,"v":30},{"s":45,"r":3.7,"v":5},{"s":45,"r":3.9,"v":25},{"s":45,"r":4.1,"v":50},{"s":45,"r":4.3,"v":70},{"s":45,"r":4.5,"v":58},{"s":45,"r":4.7,"v":35},{"s":45,"r":4.9,"v":62},{"s":45,"r":5.1,"v":68},
{"s":46,"r":0.1,"v":15},{"s":46,"r":0.3,"v":35},{"s":46,"r":0.5,"v":60},{"s":46,"r":0.7,"v":48},{"s":46,"r":0.9,"v":66},{"s":46,"r":1.1,"v":74},{"s":46,"r":1.3,"v":62},{"s":46,"r":1.5,"v":80},{"s":46,"r":1.7,"v":71},{"s":46,"r":1.9,"v":86},{"s":46,"r":2.1,"v":78},{"s":46,"r":2.3,"v":70},{"s":46,"r":2.5,"v":92},{"s":46,"r":2.7,"v":81},{"s":46,"r":2.9,"v":74},{"s":46,"r":3.1,"v":88},{"s":46,"r":3.3,"v":95},{"s":46,"r":3.5,"v":80},{"s":46,"r":3.7,"v":73},{"s":46,"r":3.9,"v":90},{"s":46,"r":4.1,"v":84},{"s":46,"r":4.3,"v":77},{"s":46,"r":4.5,"v":93},{"s":46,"r":4.7,"v":85},{"s":46,"r":4.9,"v":79},{"s":46,"r":5.1,"v":88},
{"s":47,"r":0.1,"v":12},{"s":47,"r":0.3,"v":38},{"s":47,"r":0.5,"v":55},{"s":47,"r":0.7,"v":70},{"s":47,"r":0.9,"v":58},{"s":47,"r":1.1,"v":50},{"s":47,"r":1.3,"v":64},{"s":47,"r":1.5,"v":76},{"s":47,"r":1.7,"v":68},{"s":47,"r":1.9,"v":82},{"s":47,"r":2.1,"v":73},{"s":47,"r":2.3,"v":90},{"s":47,"r":2.5,"v":79},{"s":47,"r":2.7,"v":71},{"s":47,"r":2.9,"v":85},{"s":47,"r":3.1,"v":78},{"s":47,"r":3.3,"v":93},{"s":47,"r":3.5,"v":82},{"s":47,"r":3.7,"v":75},{"s":47,"r":3.9,"v":88},{"s":47,"r":4.1,"v":80},{"s":47,"r":4.3,"v":92},{"s":47,"r":4.5,"v":83},{"s":47,"r":4.7,"v":77},{"s":47,"r":4.9,"v":90},{"s":47,"r":5.1,"v":84},
{"s":48,"r":0.1,"v":48},{"s":48,"r":0.3,"v":58},{"s":48,"r":0.5,"v":70},{"s":48,"r":0.7,"v":45},{"s":48,"r":0.9,"v":30},{"s":48,"r":1.1,"v":52},{"s":48,"r":1.3,"v":66},{"s":48,"r":1.5,"v":56},{"s":48,"r":1.7,"v":72},{"s":48,"r":1.9,"v":60},{"s":48,"r":2.1,"v":50},{"s":48,"r":2.3,"v":64},{"s":48,"r":2.5,"v":58},{"s":48,"r":2.7,"v":70},{"s":48,"r":2.9,"v":62},{"s":48,"r":3.1,"v":55},{"s":48,"r":3.3,"v":68},{"s":48,"r":3.5,"v":60},{"s":48,"r":3.7,"v":74},{"s":48,"r":3.9,"v":65},{"s":48,"r":4.1,"v":58},{"s":48,"r":4.3,"v":70},{"s":48,"r":4.5,"v":63},{"s":48,"r":4.7,"v":76},{"s":48,"r":4.9,"v":68},{"s":48,"r":5.1,"v":72},
{"s":49,"r":0.1,"v":0},{"s":49,"r":0.3,"v":4},{"s":49,"r":0.5,"v":9},{"s":49,"r":0.7,"v":3},{"s":49,"r":0.9,"v":12},{"s":49,"r":1.1,"v":6},{"s":49,"r":1.3,"v":15},{"s":49,"r":1.5,"v":8},{"s":49,"r":1.7,"v":20},{"s":49,"r":1.9,"v":11},{"s":49,"r":2.1,"v":25},{"s":49,"r":2.3,"v":14},{"s":49,"r":2.5,"v":30},{"s":49,"r":2.7,"v":18},{"s":49,"r":2.9,"v":9},{"s":49,"r":3.1,"v":22},{"s":49,"r":3.3,"v":35},{"s":49,"r":3.5,"v":26},{"s":49,"r":3.7,"v":15},{"s":49,"r":3.9,"v":32},{"s":49,"r":4.1,"v":40},{"s":49,"r":4.3,"v":28},{"s":49,"r":4.5,"v":20},{"s":49,"r":4.7,"v":38},{"s":49,"r":4.9,"v":45},{"s":49,"r":5.1,"v":33},
{"s":50,"r":0.1,"v":2},{"s":50,"r":0.3,"v":0},{"s":50,"r":0.5,"v":6},{"s":50,"r":0.7,"v":14},{"s":50,"r":0.9,"v":5},{"s":50,"r":1.1,"v":18},{"s":50,"r":1.3,"v":10},{"s":50,"r":1.5,"v":4},{"s":50,"r":1.7,"v":16},{"s":50,"r":1.9,"v":24},{"s":50,"r":2.1,"v":12},{"s":50,"r":2.3,"v":7},{"s":50,"r":2.5,"v":28},{"s":50,"r":2.7,"v":19},{"s":50,"r":2.9,"v":36},{"s":50,"r":3.1,"v":26},{"s":50,"r":3.3,"v":14},{"s":50,"r":3.5,"v":40},{"s":50,"r":3.7,"v":31},{"s":50,"r":3.9,"v":22},{"s":50,"r":4.1,"v":46},{"s":50,"r":4.3,"v":35},{"s":50,"r":4.5,"v":27},{"s":50,"r":4.7,"v":50},{"s":50,"r":4.9,"v":38},{"s":50,"r":5.1,"v":44},
{"s":51,"r":0.1,"v":5},{"s":51,"r":0.3,"v":9},{"s":51,"r":0.5,"v":2},{"s":51,"r":0.7,"v":8},{"s":51,"r":0.9,"v":18},{"s":51,"r":1.1,"v":11},{"s":51,"r":1.3,"v":3},{"s":51,"r":1.5,"v":14},{"s":51,"r":1.7,"v":25},{"s":51,"r":1.9,"v":9},{"s":51,"r":2.1,"v":19},{"s":51,"r":2.3,"v":30},{"s":51,"r":2.5,"v":13},{"s":51,"r":2.7,"v":23},{"s":51,"r":2.9,"v":8},{"s":51,"r":3.1,"v":31},{"s":51,"r":3.3,"v":17},{"s":51,"r":3.5,"v":38},{"s":51,"r":3.7,"v":24},{"s":51,"r":3.9,"v":12},{"s":51,"r":4.1,"v":29},{"s":51,"r":4.3,"v":42},{"s":51,"r":4.5,"v":33},{"s":51,"r":4.7,"v":21},{"s":51,"r":4.9,"v":40},{"s":51,"r":5.1,"v":47},
{"s":52,"r":0.1,"v":1},{"s":52,"r":0.3,"v":12},{"s":52,"r":0.5,"v":18},{"s":52,"r":0.7,"v":7},{"s":52,"r":0.9,"v":2},{"s":52,"r":1.1,"v":16},{"s":52,"r":1.3,"v":24},{"s":52,"r":1.5,"v":13},{"s":52,"r":1.7,"v":5},{"s":52,"r":1.9,"v":21},{"s":52,"r":2.1,"v":33},{"s":52,"r":2.3,"v":17},{"s":52,"r":2.5,"v":9},{"s":52,"r":2.7,"v":27},{"s":52,"r":2.9,"v":38},{"s":52,"r":3.1,"v":20},{"s":52,"r":3.3,"v":11},{"s":52,"r":3.5,"v":34},{"s":52,"r":3.7,"v":46},{"s":52,"r":3.9,"v":25},{"s":52,"r":4.1,"v":16},{"s":52,"r":4.3,"v":39},{"s":52,"r":4.5,"v":52},{"s":52,"r":4.7,"v":30},{"s":52,"r":4.9,"v":22},{"s":52,"r":5.1,"v":45}
],
"vc": [
{"r":0,"v":0},{"r":0.1,"v":6},{"r":0.25,"v":15.5},{"r":0.5,"v":27},{"r":0.75,"v":35},{"r":1.0,"v":41.2},{"r":1.25,"v":45.7},{"r":1.5,"v":49.1},{"r":1.75,"v":52.0},{"r":2.0,"v":54.6},{"r":2.25,"v":56.8},{"r":2.5,"v":58.6},{"r":2.75,"v":60.2},{"r":3.0,"v":61.5},{"r":3.25,"v":62.6},{"r":3.5,"v":63.6},{"r":3.75,"v":64.4},{"r":4.0,"v":65.1},{"r":4.25,"v":65.6},{"r":4.5,"v":66.0},{"r":4.75,"v":66.4},{"r":5.0,"v":66.7}
],
"sh": [
{"r":0,"lo":0,"hi":0.5},{"r":0.1,"lo":7.8,"hi":10.2},{"r":0.25,"lo":18,"hi":21},{"r":0.5,"lo":29.5,"hi":32.5},{"r":0.75,"lo":38.3,"hi":41.3},{"r":1.0,"lo":43.8,"hi":46.8},{"r":1.25,"lo":47.8,"hi":50.8},{"r":1.5,"lo":50.9,"hi":53.9},{"r":1.75,"lo":53.5,"hi":56.5},{"r":2.0,"lo":55.8,"hi":58.8},{"r":2.25,"lo":57.8,"hi":60.8},{"r":2.5,"lo":59.5,"hi":62.5},{"r":2.75,"lo":61,"hi":64},{"r":3.0,"lo":62.3,"hi":65.3},{"r":3.25,"lo":63.4,"hi":66.4},{"r":3.5,"lo":64.3,"hi":67.3},{"r":3.75,"lo":65,"hi":68.2},{"r":4.0,"lo":65.5,"hi":68.9},{"r":4.25,"lo":66,"hi":69.4},{"r":4.5,"lo":66.3,"hi":69.9},{"r":4.75,"lo":66.6,"hi":70.2},{"r":5.0,"lo":66.8,"hi":70.4}
]
},
"layer": [
{
  "data": {"name": "gas"},
  "mark": {"type": "line", "color": "#000", "opacity": 0.52, "strokeWidth": 1, "clip": true},
  "encoding": {
    "x": {"field": "r", "type": "quantitative", "scale": {"domain": [0, 5], "nice": false, "zero": false}, "axis": {"orient": "bottom", "values": [0, 1, 2, 3, 4, 5], "title": "𝑟 [kpc]"}},
    "y": {"field": "v", "type": "quantitative", "scale": {"domain": [0, 90], "nice": false}, "axis": {"orient": "left", "values": [0, 20, 40, 60, 80], "title": "𝑣ᵩ [km s⁻¹]"}},
    "detail": {"field": "s", "type": "nominal"}
  }
},
{
  "data": {"name": "sh"},
  "mark": {"type": "area", "color": "#1fcc1f", "opacity": 0.75, "interpolate": "monotone", "clip": true},
  "encoding": {
    "x": {"field": "r", "type": "quantitative", "axis": null},
    "y": {"field": "lo", "type": "quantitative", "axis": null},
    "y2": {"field": "hi"}
  }
},
{
  "data": {"name": "vc"},
  "mark": {"type": "line", "color": "#000", "strokeWidth": 2.6, "interpolate": "monotone", "clip": true},
  "encoding": {
    "x": {"field": "r", "type": "quantitative", "axis": {"orient": "top", "values": [0, 1, 2, 3, 4, 5], "labels": false, "title": null}},
    "y": {"field": "v", "type": "quantitative", "axis": {"orient": "right", "values": [0, 20, 40, 60, 80], "labels": false, "title": null}}
  }
},
{
  "data": {"name": "one"},
  "mark": {"type": "rect", "fill": "white", "stroke": "#000", "strokeWidth": 1},
  "encoding": {
    "x": {"datum": 3.7, "type": "quantitative", "axis": null},
    "x2": {"datum": 4.905},
    "y": {"datum": 1.9, "type": "quantitative", "axis": null},
    "y2": {"datum": 15.3}
  }
},
{
  "data": {"name": "one"},
  "mark": {"type": "rule", "color": "#000", "strokeWidth": 2.5},
  "encoding": {
    "x": {"datum": 3.76, "type": "quantitative", "axis": null},
    "x2": {"datum": 4.15},
    "y": {"datum": 11.9, "type": "quantitative", "axis": null}
  }
},
{
  "data": {"name": "one"},
  "mark": {"type": "rule", "color": "#999", "strokeWidth": 1},
  "encoding": {
    "x": {"datum": 3.76, "type": "quantitative", "axis": null},
    "x2": {"datum": 4.15},
    "y": {"datum": 6.3, "type": "quantitative", "axis": null}
  }
},
{
  "data": {"name": "one"},
  "mark": {"type": "text", "text": "𝑣", "font": "DejaVu Serif", "fontSize": 12, "align": "left", "baseline": "alphabetic", "color": "#000"},
  "encoding": {"x": {"datum": 4.3, "type": "quantitative", "axis": null}, "y": {"datum": 11.0, "type": "quantitative", "axis": null}}
},
{
  "data": {"name": "one"},
  "mark": {"type": "text", "text": "circ", "font": "DejaVu Serif", "fontSize": 8.5, "align": "left", "baseline": "alphabetic", "color": "#000"},
  "encoding": {"x": {"datum": 4.42, "type": "quantitative", "axis": null}, "y": {"datum": 10.2, "type": "quantitative", "axis": null}}
},
{
  "data": {"name": "one"},
  "mark": {"type": "text", "text": "gas", "font": "DejaVu Sans", "fontSize": 11.5, "fontWeight": "bold", "align": "left", "baseline": "alphabetic", "color": "#000"},
  "encoding": {"x": {"datum": 4.3, "type": "quantitative", "axis": null}, "y": {"datum": 4.9, "type": "quantitative", "axis": null}}
},
{
  "data": {"name": "one"},
  "mark": {"type": "text", "text": "𝑣", "font": "DejaVu Serif", "fontSize": 12, "align": "left", "baseline": "alphabetic", "color": "#000"},
  "encoding": {"x": {"datum": 4.71, "type": "quantitative", "axis": null}, "y": {"datum": 4.9, "type": "quantitative", "axis": null}}
},
{
  "data": {"name": "one"},
  "mark": {"type": "text", "text": "ϕ", "font": "DejaVu Serif", "fontSize": 8.5, "fontStyle": "italic", "align": "left", "baseline": "alphabetic", "color": "#000"},
  "encoding": {"x": {"datum": 4.81, "type": "quantitative", "axis": null}, "y": {"datum": 4.0, "type": "quantitative", "axis": null}}
},
{
  "data": {"name": "one"},
  "mark": {"type": "text", "text": "SH03", "font": "DejaVu Serif", "fontSize": 13, "align": "left", "baseline": "alphabetic", "color": "#3ccf3c"},
  "encoding": {"x": {"datum": 0.27, "type": "quantitative", "axis": null}, "y": {"datum": 83.2, "type": "quantitative", "axis": null}}
},
{
  "data": {"name": "one"},
  "mark": {"type": "text", "text": "SMUGGLE", "font": "DejaVu Serif", "fontSize": 9.5, "fontWeight": "bold", "align": "left", "baseline": "alphabetic", "color": "#000"},
  "encoding": {"x": {"datum": 0.27, "type": "quantitative", "axis": null}, "y": {"datum": 79.3, "type": "quantitative", "axis": null}}
},
{
  "data": {"name": "one"},
  "mark": {"type": "text", "text": "Δ𝑡 = 0.5 Gyr", "font": "DejaVu Serif", "fontSize": 13, "align": "left", "baseline": "alphabetic", "color": "#000"},
  "encoding": {"x": {"datum": 0.27, "type": "quantitative", "axis": null}, "y": {"datum": 72.5, "type": "quantitative", "axis": null}}
}
],
"resolve": {"axis": {"x": "independent", "y": "independent"}}
}
